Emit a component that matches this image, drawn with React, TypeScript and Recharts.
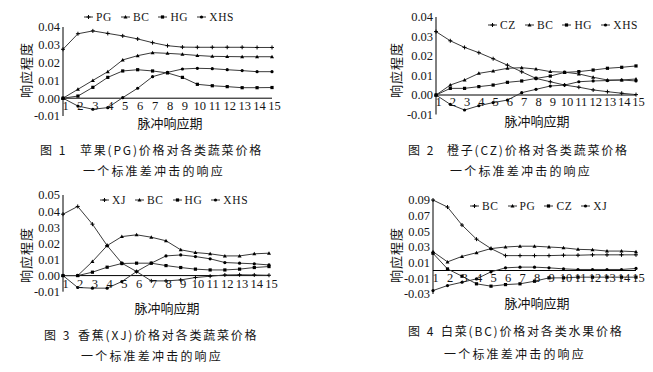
import React from "react"
import { LineChart, Line, XAxis, YAxis, ReferenceLine, Legend } from "recharts"

const PERIODS = [1, 2, 3, 4, 5, 6, 7, 8, 9, 10, 11, 12, 13, 14, 15]

// 图1 苹果(PG)冲击
const FIG1_NAMES = ["PG", "BC", "HG", "XHS"]
const FIG1_PG = [0.0275, 0.0362, 0.0378, 0.0364, 0.035, 0.0333, 0.0312, 0.0295, 0.0287, 0.0286, 0.0286, 0.0286, 0.0286, 0.0285, 0.0285]
const FIG1_BC = [0, 0.005, 0.01, 0.0149, 0.0215, 0.0239, 0.0256, 0.0252, 0.0247, 0.024, 0.0235, 0.0234, 0.0233, 0.0233, 0.0233]
const FIG1_HG = [0, 0.0012, 0.0061, 0.0117, 0.0153, 0.016, 0.0153, 0.0142, 0.0117, 0.0078, 0.007, 0.0065, 0.0059, 0.0059, 0.006]
const FIG1_XHS = [0, -0.0044, -0.0062, -0.0053, 0.0003, 0.0056, 0.0121, 0.0145, 0.0164, 0.0168, 0.0166, 0.016, 0.0155, 0.0149, 0.0149]

// 图2 橙子(CZ)冲击
const FIG2_NAMES = ["CZ", "BC", "HG", "XHS"]
const FIG2_CZ = [0.0325, 0.0278, 0.0244, 0.0217, 0.0186, 0.0153, 0.0119, 0.0085, 0.0068, 0.0051, 0.004, 0.0026, 0.0017, 0.0009, 0.0002]
const FIG2_BC = [0, 0.0051, 0.0077, 0.0111, 0.0123, 0.0137, 0.014, 0.0133, 0.012, 0.0117, 0.0108, 0.0091, 0.0077, 0.0077, 0.0082]
const FIG2_HG = [0, 0.0034, 0.0034, 0.0043, 0.0051, 0.0065, 0.0072, 0.0085, 0.0097, 0.0116, 0.012, 0.0128, 0.0137, 0.0142, 0.0149]
const FIG2_XHS = [0, -0.0048, -0.0077, -0.0055, -0.0039, -0.0026, 0.0012, 0.0029, 0.0046, 0.0051, 0.0068, 0.0072, 0.0074, 0.0077, 0.0072]

// 图3 香蕉(XJ)冲击
const FIG3_NAMES = ["XJ", "BC", "HG", "XHS"]
const FIG3_XJ = [0.0381, 0.0429, 0.0319, 0.0186, 0.0077, 0.0025, -0.0033, -0.0033, -0.0027, -0.0012, -0.0004, 0.0004, 0.0005, 0.0004, 0.0002]
const FIG3_BC = [0, 0, 0.0087, 0.0186, 0.0242, 0.0253, 0.0238, 0.0216, 0.016, 0.0143, 0.0135, 0.0122, 0.0122, 0.0135, 0.0139]
const FIG3_HG = [0, 0, 0.0021, 0.0052, 0.0075, 0.0077, 0.0077, 0.0062, 0.005, 0.004, 0.0035, 0.0035, 0.004, 0.005, 0.0056]
const FIG3_XHS = [0, -0.0074, -0.0078, -0.0078, -0.0037, 0.0025, 0.0077, 0.0122, 0.0128, 0.0118, 0.0104, 0.0081, 0.0077, 0.0073, 0.0066]

// 图4 白菜(BC)冲击
const FIG4_NAMES = ["BC", "PG", "CZ", "XJ"]
const FIG4_BC = [0.09, 0.081, 0.058, 0.04, 0.028, 0.019, 0.019, 0.019, 0.019, 0.0195, 0.0195, 0.02, 0.02, 0.02, 0.02]
const FIG4_PG = [0.024, 0.011, 0.018, 0.0227, 0.028, 0.03, 0.031, 0.031, 0.03, 0.029, 0.027, 0.0265, 0.0248, 0.0248, 0.024]
const FIG4_CZ = [0.022, 0.002, -0.0073, -0.017, -0.02, -0.018, -0.017, -0.0137, -0.0094, -0.0094, -0.0085, -0.0085, -0.0085, -0.0085, -0.0085]
const FIG4_XJ = [-0.0256, -0.0192, -0.015, -0.0107, -0.0017, 0.0034, 0.0043, 0.0043, 0.0034, 0.0021, 0.0013, 0.0013, 0.0013, 0.0013, 0.0026]

const TICKS_A = [-0.01, 0, 0.01, 0.02, 0.03, 0.04]
const TICKS_C = [-0.01, 0, 0.01, 0.02, 0.03, 0.04, 0.05]
const TICKS_D = [-0.03, -0.01, 0.01, 0.03, 0.05, 0.07, 0.09]

const Y_TITLE = "响应程度"
const X_TITLE = "脉冲响应期"

const CAPTIONS = [
  { fig: "图 1", line1: "苹果(PG)价格对各类蔬菜价格", line2: "一个标准差冲击的响应" },
  { fig: "图 2", line1: "橙子(CZ)价格对各类蔬菜价格", line2: "一个标准差冲击的响应" },
  { fig: "图 3", line1: "香蕉(XJ)价格对各类蔬菜价格", line2: "一个标准差冲击的响应" },
  { fig: "图 4", line1: "白菜(BC)价格对各类水果价格", line2: "一个标准差冲击的响应" },
]

const W = 653
const H = 372
const YW = 40
const XH = 20
const SERIF = '"Liberation Serif", "DejaVu Serif", serif'
const CJK = '"Noto Sans CJK SC", "Noto Sans CJK JP", sans-serif'
const INK = "#151515"
const KINDS = ["plus", "tri", "square", "dot"]

const buildRows = (cols: number[][]) =>
  PERIODS.map((p, i) => {
    const row: Record<string, number> = { p }
    cols.forEach((c, j) => (row["s" + j] = c[i]))
    return row
  })

const PANELS = [
  {
    names: FIG1_NAMES, rows: buildRows([FIG1_PG, FIG1_BC, FIG1_HG, FIG1_XHS]),
    domain: [-0.01, 0.04], ticks: TICKS_A,
    plot: { left: 63, right: 272, top: 27, bottom: 116 },
    xTickBase: 110, yTitle: [25, 70], xTitle: [170, 122], legend: [84, 11],
    cap: { figX: 40, textX: 80, y1: 143, y2: 164 },
  },
  {
    names: FIG2_NAMES, rows: buildRows([FIG2_CZ, FIG2_BC, FIG2_HG, FIG2_XHS]),
    domain: [-0.01, 0.04], ticks: TICKS_A,
    plot: { left: 436, right: 636, top: 17, bottom: 114.5 },
    xTickBase: 106, yTitle: [395, 70], xTitle: [537, 120], legend: [488, 19],
    cap: { figX: 408, textX: 447, y1: 143, y2: 164 },
  },
  {
    names: FIG3_NAMES, rows: buildRows([FIG3_XJ, FIG3_BC, FIG3_HG, FIG3_XHS]),
    domain: [-0.01, 0.05], ticks: TICKS_C,
    plot: { left: 63, right: 269, top: 195, bottom: 291.7 },
    xTickBase: 288, yTitle: [25, 255], xTitle: [167, 307], legend: [100, 194],
    cap: { figX: 44, textX: 78, y1: 328, y2: 349 },
  },
  {
    names: FIG4_NAMES, rows: buildRows([FIG4_BC, FIG4_PG, FIG4_CZ, FIG4_XJ]),
    domain: [-0.03, 0.09], ticks: TICKS_D,
    plot: { left: 433, right: 636, top: 200, bottom: 294 },
    xTickBase: 282, yTitle: [395, 255], xTitle: [537, 302], legend: [470, 200],
    cap: { figX: 408, textX: 441, y1: 324, y2: 347 },
  },
]

function Marker({ cx, cy, kind }: { cx: number; cy: number; kind: string }) {
  if (cx == null || cy == null) return null
  if (kind === "plus")
    return (
      <g stroke="#000" strokeWidth={1}>
        <line x1={cx - 2} y1={cy} x2={cx + 2} y2={cy} />
        <line x1={cx} y1={cy - 2} x2={cx} y2={cy + 2} />
      </g>
    )
  if (kind === "tri")
    return <path d={`M${cx},${cy - 2}L${cx + 2},${cy + 1.5}L${cx - 2},${cy + 1.5}Z`} fill="#000" />
  if (kind === "square") return <rect x={cx - 1.6} y={cy - 1.6} width={3.2} height={3.2} fill="#000" />
  return <circle cx={cx} cy={cy} r={1.6} fill="#000" />
}

function LegendRow({ names }: { names: string[] }) {
  return (
    <div style={{ display: "flex", alignItems: "center", fontFamily: SERIF, fontSize: 11.5, color: INK, lineHeight: "12px", whiteSpace: "nowrap" }}>
      {names.map((n, i) => (
        <span key={n} style={{ display: "inline-flex", alignItems: "center", marginRight: 9 }}>
          <svg width={9} height={8} style={{ marginRight: 3 }}>
            <line x1={0} y1={4} x2={9} y2={4} stroke="#333" strokeWidth={1} />
            <Marker cx={4.5} cy={4} kind={KINDS[i]} />
          </svg>
          <span style={{ letterSpacing: 0.6 }}>{n}</span>
        </span>
      ))}
    </div>
  )
}

function YTitle({ px, py }: { px: number; py: number }) {
  return (
    <text x={px} y={py} transform={`rotate(-90 ${px} ${py})`} textAnchor="middle" dominantBaseline="central"
      fontFamily={CJK} fontSize={13} letterSpacing={1} fill={INK}>
      {Y_TITLE}
    </text>
  )
}

function XTitle({ px, py }: { px: number; py: number }) {
  return (
    <text x={px} y={py} textAnchor="middle" dominantBaseline="central" fontFamily={CJK} fontSize={13} fill={INK}>
      {X_TITLE}
    </text>
  )
}

function Panel({ cfg }: { cfg: (typeof PANELS)[number] }) {
  const { plot } = cfg
  const margin = {
    top: plot.top,
    left: plot.left - YW,
    right: W - plot.right,
    bottom: H - plot.bottom - XH,
  }
  const XTick = (props: any) => (
    <text x={props.x + 2.5} y={cfg.xTickBase} textAnchor="middle" fontFamily={SERIF} fontSize={12.5} fill={INK}>
      {props.payload.value}
    </text>
  )
  return (
    <div style={{ position: "absolute", left: 0, top: 0 }}>
      <LineChart width={W} height={H} data={cfg.rows} margin={margin}>
        <XAxis dataKey="p" type="category" height={XH} interval={0} axisLine={false} tickLine={false}
          padding={{ left: 0, right: 0 }} tick={XTick}
          label={<XTitle px={cfg.xTitle[0]} py={cfg.xTitle[1]} />} />
        <YAxis type="number" width={YW} domain={cfg.domain} ticks={cfg.ticks} interval={0}
          tickLine={false} tickSize={0} tickMargin={3} axisLine={{ stroke: "#000", strokeWidth: 1 }}
          tickFormatter={(v: number) => v.toFixed(2)}
          tick={{ fontFamily: SERIF, fontSize: 12.5, fill: INK }}
          label={<YTitle px={cfg.yTitle[0]} py={cfg.yTitle[1]} />} />
        <ReferenceLine y={0} stroke="#000" strokeWidth={1} />
        <Legend layout="horizontal" verticalAlign="middle" align="center"
          wrapperStyle={{ left: cfg.legend[0], top: cfg.legend[1], width: "auto", height: "auto" }}
          content={() => <LegendRow names={cfg.names} />} />
        {cfg.names.map((n, j) => (
          <Line key={n} name={n} dataKey={"s" + j} type="linear" stroke="#3a3a3a" strokeWidth={1}
            isAnimationActive={false}
            dot={(d: any) => <Marker key={n + d.index} cx={d.cx} cy={d.cy} kind={KINDS[j]} />}
            activeDot={false} />
        ))}
      </LineChart>
    </div>
  )
}

function Caption({ c, pos }: { c: (typeof CAPTIONS)[number]; pos: (typeof PANELS)[number]["cap"] }) {
  const base: React.CSSProperties = { position: "absolute", fontFamily: CJK, fontSize: 12, color: INK, lineHeight: "14px", whiteSpace: "nowrap" }
  return (
    <>
      <div style={{ ...base, left: pos.figX, top: pos.y1, letterSpacing: 2 }}>{c.fig}</div>
      <div style={{ ...base, left: pos.textX, top: pos.y1, letterSpacing: 1.8 }}>{c.line1}</div>
      <div style={{ ...base, left: pos.textX + 3, top: pos.y2, letterSpacing: 2.2 }}>{c.line2}</div>
    </>
  )
}

export default function App() {
  return (
    <div style={{ position: "relative", width: W, height: H, background: "#fff", overflow: "hidden" }}>
      <style>{`body{margin:0}`}</style>
      {PANELS.map((p, i) => (
        <Panel key={i} cfg={p} />
      ))}
      {PANELS.map((p, i) => (
        <Caption key={"c" + i} c={CAPTIONS[i]} pos={p.cap} />
      ))}
    </div>
  )
}
